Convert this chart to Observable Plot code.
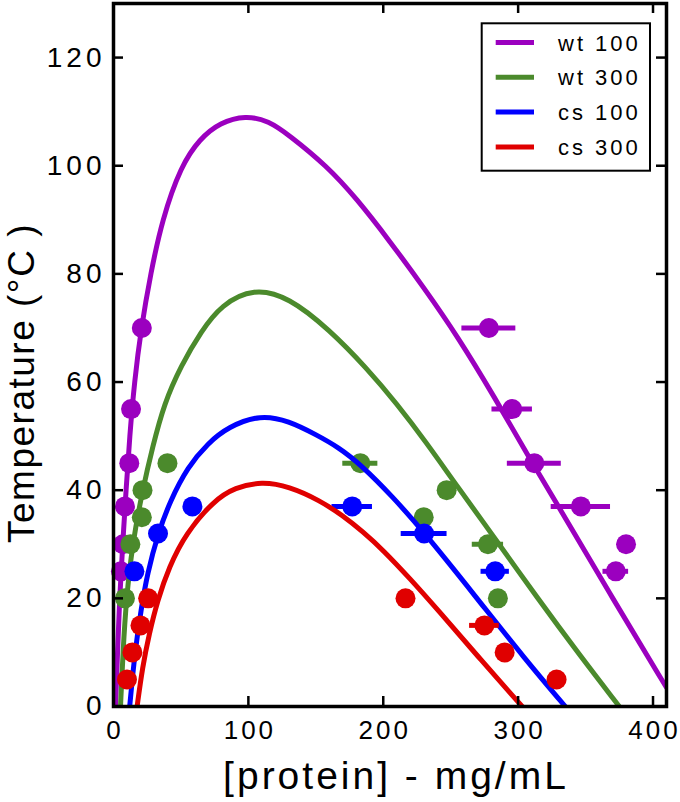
<!DOCTYPE html>
<html><head><meta charset="utf-8">
<script src="https://cdn.jsdelivr.net/npm/d3@7"></script>
<script src="https://cdn.jsdelivr.net/npm/@observablehq/plot@0.6"></script>
<style>
html,body{margin:0;padding:0;background:#fff;}
#chart{width:680px;height:802px;}
</style></head><body><div id="chart"></div>
<script>
// ---- data ----
const seriesNames = ["wt 100", "wt 300", "cs 100", "cs 300"];
const seriesColors = ["#9b00bf", "#4b8a2c", "#0000ff", "#e00000"];

// fitted phase-boundary curves
const wt100CurveX = [1.5, 3, 4.5, 6.8, 9.3, 12, 15.5, 20.5, 27.5, 36, 50, 64, 79, 98, 115, 130, 158, 180, 205, 230, 255, 283, 307, 330, 370, 410];
const wt100CurveY = [0, 10, 20, 30, 40, 50, 60, 70, 80, 90, 100, 105, 108, 109.3, 108.3, 105.7, 100, 94, 86, 77.5, 68.5, 57, 46.5, 37, 20, 3.5];
const wt300CurveX = [5.2, 7, 9.5, 14, 21.5, 29, 37.5, 50, 65, 80, 104, 130, 160, 188, 210, 232, 254, 286, 313, 345, 375];
const wt300CurveY = [0, 10, 20, 30, 40, 48, 56, 63, 69.4, 74.3, 77.4, 75.7, 69.7, 62.5, 56, 48.8, 41, 30, 20.5, 9.7, 0];
const cs100CurveX = [12, 15.8, 20.5, 25, 33, 42, 55, 70, 85, 109, 130, 150, 167, 183, 207, 231, 268, 305, 335];
const cs100CurveY = [0, 10, 18, 24.5, 32, 38, 44.3, 48.7, 51.7, 54, 52.8, 50.3, 47.9, 44.8, 38.8, 32, 20.5, 8.8, 0];
const cs300CurveX = [17.5, 21.5, 26.5, 32.6, 41.2, 53.5, 74.5, 90, 110, 130, 153, 170, 185, 200, 220, 240, 270, 303];
const cs300CurveY = [0, 7.3, 13.5, 19.6, 25.8, 32, 38.1, 40.5, 41.6, 40.7, 38.1, 35.3, 32.3, 28.9, 23.6, 18, 9.3, 0];

// measured points (x = protein mg/mL, y = temperature, err = horizontal error)
const wt100PtX = [21, 13, 11.7, 8.5, 7, 5.5, 278.3, 295.6, 312, 346.5, 380, 372.4];
const wt100PtY = [70, 55, 45, 37, 30, 25, 70, 55, 45, 37, 30, 25];
const wt100PtErr = [0, 0, 0, 0, 0, 0, 20, 15, 20, 22, 0, 9.5];
const wt300PtX = [21.5, 40, 21, 12.5, 8.5, 183, 247, 230, 277.6, 285];
const wt300PtY = [40, 45, 35, 30, 20, 45, 40, 35, 30, 20];
const wt300PtErr = [0, 0, 0, 0, 0, 13, 0, 0, 11.6, 0];
const cs100PtX = [58.5, 33, 15.5, 177, 230.3, 283];
const cs100PtY = [37, 32, 25, 37, 32, 25];
const cs100PtErr = [0, 0, 0, 15, 17, 10.5];
const cs300PtX = [25.7, 20, 14, 10, 216.5, 275, 290, 328.5];
const cs300PtY = [20, 15, 10, 5, 20, 15, 10, 5];
const cs300PtErr = [0, 0, 0, 0, 0, 11, 0, 0];

const xTicks = [0, 100, 200, 300, 400];
const yTicks = [0, 20, 40, 60, 80, 100, 120];
const xLabel = "[protein] - mg/mL";
const yLabel = "Temperature (°C )";

// ---- build tables ----
const curveXs = [wt100CurveX, wt300CurveX, cs100CurveX, cs300CurveX];
const curveYs = [wt100CurveY, wt300CurveY, cs100CurveY, cs300CurveY];
const ptXs = [wt100PtX, wt300PtX, cs100PtX, cs300PtX];
const ptYs = [wt100PtY, wt300PtY, cs100PtY, cs300PtY];
const ptErrs = [wt100PtErr, wt300PtErr, cs100PtErr, cs300PtErr];

const W = 680, H = 802, mL = 113, mR = 14, mT = 3, mB = 96;
const frameH = H - mT - mB, frameW = W - mL - mR;
const tickLen = 10;

const marks = [];
seriesNames.forEach((name, i) => {
  const color = seriesColors[i];
  const curve = curveXs[i].map((x, j) => ({x, y: curveYs[i][j]}));
  const pts = ptXs[i].map((x, j) => ({x, y: ptYs[i][j], err: ptErrs[i][j]}));
  marks.push(Plot.line(curve, {x: "x", y: "y", stroke: color, strokeWidth: 5, curve: "basis", clip: true}));
  marks.push(Plot.ruleY(pts.filter(d => d.err > 0), {y: "y", x1: d => d.x - d.err, x2: d => d.x + d.err, stroke: color, strokeWidth: 5}));
  marks.push(Plot.dot(pts, {x: "x", y: "y", r: 10, fill: color, stroke: "none"}));
});

// inward ticks on all four sides
marks.push(Plot.tickX(xTicks, {x: d => d, insetTop: frameH - tickLen, stroke: "black", strokeWidth: 2.5}));
marks.push(Plot.tickX(xTicks, {x: d => d, insetBottom: frameH - tickLen, stroke: "black", strokeWidth: 2.5}));
marks.push(Plot.tickY(yTicks, {y: d => d, insetRight: frameW - tickLen, stroke: "black", strokeWidth: 2.5}));
marks.push(Plot.tickY(yTicks, {y: d => d, insetLeft: frameW - tickLen, stroke: "black", strokeWidth: 2.5}));
marks.push(Plot.frame({stroke: "black", strokeWidth: 3.5}));
// tick labels
marks.push(Plot.text(xTicks, {x: d => d, text: d => String(d), frameAnchor: "bottom", dy: 14, dx: 1.5, lineAnchor: "top", fontSize: 26, fill: "black"}));
marks.push(Plot.text(yTicks, {y: d => d, text: d => String(d), frameAnchor: "left", dx: -8, textAnchor: "end", fontSize: 28, fill: "black"}));

const svg = Plot.plot({
  width: W, height: H,
  marginLeft: mL, marginRight: mR, marginTop: mT, marginBottom: mB,
  x: {domain: [0, 410], axis: null},
  y: {domain: [0, 130], axis: null},
  style: {fontFamily: "'Liberation Sans', Arial, sans-serif", background: "white"},
  marks
});

const texts = svg.querySelectorAll('g[aria-label="text"]');
if (texts[0]) texts[0].style.letterSpacing = "3px";
if (texts[1]) texts[1].style.letterSpacing = "4px";

const s = d3.select(svg);
const ff = "'Liberation Sans', Arial, sans-serif";
// axis titles
s.append("text").attr("x", 396).attr("y", 788.5).attr("text-anchor", "middle")
  .attr("font-family", ff).attr("font-size", 39).attr("letter-spacing", "3px").attr("fill", "black").text(xLabel);
s.append("text").attr("transform", "translate(34,383) rotate(-90)").attr("text-anchor", "middle")
  .attr("font-family", ff).attr("font-size", 37).attr("letter-spacing", "1.5px").attr("fill", "black").text(yLabel);

// legend
const lg = s.append("g");
lg.append("rect").attr("x", 481.7).attr("y", 23.3).attr("width", 168.3).attr("height", 147.4)
  .attr("fill", "white").attr("stroke", "black").attr("stroke-width", 2);
seriesNames.forEach((name, i) => {
  const cy = 42.5 + i * 34.8;
  lg.append("line").attr("x1", 495.7).attr("x2", 534).attr("y1", cy).attr("y2", cy)
    .attr("stroke", seriesColors[i]).attr("stroke-width", 5);
  lg.append("text").attr("x", 558).attr("y", cy + 8).attr("text-anchor", "start").attr("font-family", ff).attr("font-size", 22)
    .attr("letter-spacing", "3px").attr("fill", "black").text(name);
});

document.getElementById("chart").appendChild(svg);
</script>
</body></html>
